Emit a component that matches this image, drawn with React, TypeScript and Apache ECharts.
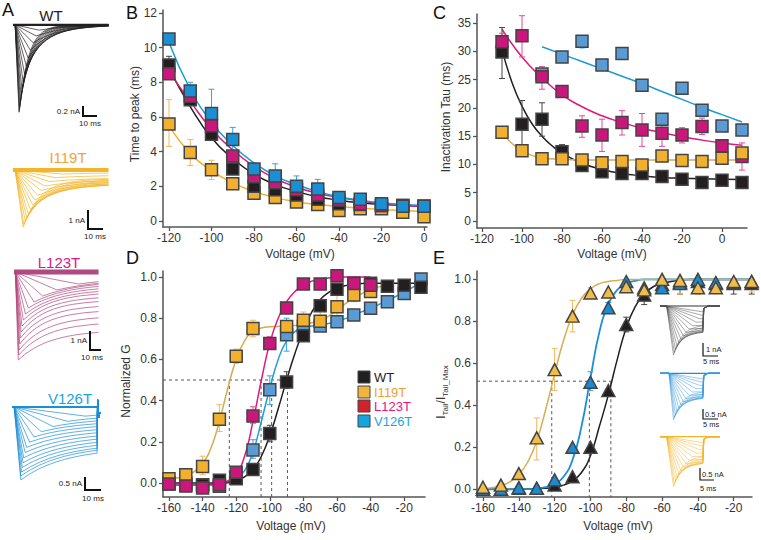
import React, { useEffect, useRef } from "react";
import * as echarts from "echarts";

const FONT = "'Liberation Sans', Arial, Helvetica, sans-serif";

// ===== Panel B: time to peak (ms) =====
const bVolt = [-120, -110, -100, -90, -80, -70, -60, -50, -40, -30, -20, -10, 0];
const bWT = [9.0, 7.0, 5.0, 3.0, 2.0, 1.8, 1.5, 1.25, 1.0, 0.95, 0.9, 0.9, 0.85];
const bI119T = [5.6, 3.95, 2.95, 2.15, 1.6, 1.35, 1.1, 0.95, 0.6, 0.7, 0.7, 0.5, 0.25];
const bL123T = [8.5, 7.2, 5.5, 3.75, 2.55, 2.2, 1.8, 1.5, 1.2, 1.0, 0.9, 0.9, 0.85];
const bV126T = [10.5, 7.5, 6.2, 4.7, 3.0, 2.6, 2.0, 1.85, 1.35, 1.25, 1.0, 0.85, 0.85];
const bFitWT = [8.8, 6.6, 4.8, 3.6, 2.7, 2.1, 1.7, 1.4, 1.2, 1.05, 0.95, 0.9, 0.85];
const bFitI119T = [5.5, 3.9, 2.9, 2.2, 1.7, 1.35, 1.1, 0.95, 0.83, 0.74, 0.66, 0.6, 0.55];
const bFitL123T = [8.6, 6.9, 5.3, 4.1, 3.15, 2.45, 1.95, 1.6, 1.35, 1.15, 1.0, 0.9, 0.85];
const bFitV126T = [10.3, 7.6, 5.7, 4.35, 3.35, 2.6, 2.1, 1.7, 1.4, 1.2, 1.05, 0.95, 0.9];
const bErrWT = [[-120, 8.5, 9.5]];
const bErrI119T = [[-120, 4.3, 7.0], [-110, 3.2, 4.7], [-100, 2.4, 3.5]];
const bErrV126T = [[-110, 7.0, 8.0], [-100, 4.8, 7.6], [-90, 4.0, 5.4], [-70, 2.1, 3.3], [-60, 1.5, 2.6], [-50, 1.3, 2.4]];
const bXTicks = [-120, -100, -80, -60, -40, -20, 0];
const bYTicks = [0, 2, 4, 6, 8, 10, 12];

// ===== Panel C: inactivation tau (ms) =====
const cVolt = [-110, -100, -90, -80, -70, -60, -50, -40, -30, -20, -10, 0, 10];
const cWT = [29.9, 17.1, 18.0, 12.25, 9.8, 8.7, 8.4, 8.4, 7.85, 7.4, 6.8, 7.2, 6.8];
const cI119T = [15.7, 12.4, 11.0, 11.0, 10.8, 10.3, 10.5, 9.9, 11.5, 10.7, 10.5, 11.1, 12.0];
const cL123T = [31.7, 32.75, 25.5, 22.9, 16.8, 15.2, 17.4, 16.1, 15.5, 15.2, 16.7, 13.3, 11.4];
const cVoltV126T = [-90, -80, -70, -60, -50, -40, -30, -20, -10, 0, 10];
const cV126T = [26.0, 29.0, 31.8, 27.6, 29.6, 24.0, 18.0, 23.45, 19.6, 16.8, 16.1];
const cFitWTVolt = [-110, -105, -100, -95, -90, -85, -80, -70, -60, -50, -40, -30, -20, -10, 0, 10];
const cFitWT = [30.3, 24.5, 20.3, 17.2, 15.0, 13.3, 12.0, 10.2, 9.1, 8.4, 8.0, 7.7, 7.55, 7.45, 7.4, 7.35];
const cFitI119TVolt = [-110, -105, -100, -95, -90, -80, -70, -60, -50, -40, -30, -20, -10, 0, 10];
const cFitI119T = [15.7, 13.7, 12.4, 11.6, 11.15, 10.9, 10.8, 10.8, 10.8, 10.8, 10.8, 10.8, 10.8, 10.8, 10.8];
const cFitL123T = [33.9, 29.0, 25.3, 22.3, 20.2, 18.6, 17.4, 16.4, 15.6, 14.9, 14.3, 13.8, 13.4];
const cFitV126T = [30.8, 29.5, 28.2, 26.9, 25.6, 24.3, 22.9, 21.5, 20.1, 18.8, 17.5];
const cErrWT = [[-110, 25.2, 34.2], [-100, 12.8, 21.3], [-90, 15.0, 20.9], [-80, 11.0, 13.5]];
const cErrL123T = [[-110, 30.0, 33.2], [-100, 29.0, 36.3], [-90, 23.3, 27.3], [-70, 14.8, 18.6], [-60, 12.3, 18.0], [-50, 15.2, 19.5], [-40, 13.2, 19.0], [-30, 13.2, 17.5], [-20, 13.8, 16.5], [-10, 15.3, 18.2], [0, 12.2, 14.3], [10, 9.0, 13.8]];
const cErrV126T = [[-80, 28.2, 30.0], [-70, 30.6, 32.8], [-60, 27.0, 28.2], [-50, 28.6, 30.6]];
const cXTicks = [-120, -100, -80, -60, -40, -20, 0];
const cYTicks = [0, 5, 10, 15, 20, 25, 30, 35];

// ===== Panel D: normalized G =====
const dVolt = [-160, -150, -140, -130, -120, -110, -100, -90, -80, -70, -60, -50, -40, -30, -20, -10];
const dWT = [-0.005, 0.0, -0.01, 0.013, 0.02, 0.065, 0.24, 0.49, 0.715, 0.86, 0.94, 0.97, 0.97, 0.955, 0.96, 0.95];
const dVoltI119T = [-160, -150, -140, -130, -120, -110, -90, -80, -70, -60, -50, -40];
const dI119T = [0.02, 0.04, 0.08, 0.31, 0.615, 0.75, 0.76, 0.79, 0.785, 0.855, 0.913, 0.93];
const dVoltL123T = [-160, -150, -140, -130, -120, -110, -100, -90, -80, -70, -60, -50, -40];
const dL123T = [-0.005, -0.015, -0.024, -0.008, 0.052, 0.325, 0.677, 0.85, 0.966, 0.966, 1.006, 0.968, 0.96];
const dV126T = [0.0, -0.01, -0.008, -0.016, 0.025, 0.16, 0.453, 0.72, 0.76, 0.762, 0.783, 0.815, 0.848, 0.88, 0.92, 0.99];
const dFitVolt = [-160, -155, -150, -145, -140, -135, -130, -125, -120, -115, -110, -105, -100, -95, -90, -85, -80, -75, -70, -65, -60, -55, -50, -45, -40, -35, -30, -25, -20, -15, -10];
const dFitWT = [0, 0, 0, 0, 0, 0, 0.002, 0.005, 0.012, 0.03, 0.065, 0.13, 0.23, 0.36, 0.5, 0.63, 0.74, 0.83, 0.89, 0.925, 0.945, 0.958, 0.965, 0.968, 0.97, 0.97, 0.97, 0.97, 0.97, 0.97, 0.97];
const dFitI119T = [0.02, 0.025, 0.035, 0.055, 0.095, 0.17, 0.3, 0.46, 0.6, 0.69, 0.735, 0.752, 0.758, 0.76, 0.762, 0.765, 0.77, 0.778, 0.79, 0.81, 0.84, 0.87, 0.9, 0.92, 0.94, 0.952, 0.96];
const dFitL123T = [-0.01, -0.01, -0.01, -0.01, -0.01, -0.008, -0.003, 0.01, 0.045, 0.13, 0.3, 0.5, 0.68, 0.8, 0.88, 0.93, 0.96, 0.98, 0.99, 0.995, 1.0, 1.0, 1.0, 1.0, 1.0];
const dFitV126T = [-0.01, -0.01, -0.01, -0.01, -0.01, -0.01, -0.008, 0.0, 0.02, 0.06, 0.15, 0.3, 0.46, 0.6, 0.69, 0.735, 0.755, 0.762, 0.767, 0.774, 0.785, 0.798, 0.815, 0.832, 0.85, 0.867, 0.885, 0.905, 0.925, 0.95, 0.975];
const dErrI119T = [[-140, 0.04, 0.13], [-130, 0.25, 0.38], [-120, 0.58, 0.65], [-110, 0.71, 0.79], [-80, 0.77, 0.83], [-70, 0.74, 0.84], [-60, 0.8, 0.92], [-50, 0.88, 0.95]];
const dErrV126T = [[-110, 0.12, 0.21], [-100, 0.38, 0.52], [-90, 0.64, 0.8], [-60, 0.76, 0.8]];
const dErrWT = [[-100, 0.2, 0.28], [-90, 0.46, 0.54]];
const dErrL123T = [[-110, 0.29, 0.37], [-100, 0.65, 0.71]];
const dHalf = 0.5;
const dV12 = [-124.1, -105.2, -98.9, -89.5];
const dStars = [[-106.4, -0.01], [-96.9, 0.16], [-89.2, 0.417]];
const dXTicks = [-160, -140, -120, -100, -80, -60, -40, -20];
const unitTicks = [0, 0.2, 0.4, 0.6, 0.8, 1.0];

// ===== Panel E: tail current =====
const eVolt = [-160, -150, -140, -130, -120, -110, -100, -90, -80, -70, -60, -50, -40, -30, -20, -10];
const eWT = [0.0, 0.0, 0.005, 0.005, 0.02, 0.06, 0.2, 0.47, 0.785, 0.925, 0.975, 0.985, 0.99, 0.98, 0.98, 0.98];
const eI119T = [0.01, 0.02, 0.075, 0.245, 0.57, 0.825, 0.935, 0.94, 0.965, 0.95, 1.0, 0.995, 0.96, 0.96, 0.99, 0.99];
const eV126T = [0.0, 0.0, 0.008, 0.005, 0.045, 0.2, 0.51, 0.865, 0.99, 0.96, 0.96, 0.98, 1.0, 0.985, 0.985, 0.99];
const eFitWT = [0, 0, 0, 0, 0, 0.001, 0.002, 0.005, 0.01, 0.02, 0.04, 0.08, 0.16, 0.3, 0.45, 0.62, 0.77, 0.87, 0.93, 0.965, 0.98, 0.99, 0.995, 1, 1, 1, 1, 1, 1, 1, 1];
const eFitI119T = [0.004, 0.008, 0.017, 0.035, 0.07, 0.13, 0.23, 0.38, 0.55, 0.71, 0.83, 0.91, 0.955, 0.98, 0.99, 0.995, 1, 1, 1, 1, 1, 1, 1, 1, 1, 1, 1, 1, 1, 1, 1];
const eFitV126T = [0, 0, 0, 0, 0, 0.001, 0.003, 0.01, 0.025, 0.06, 0.14, 0.3, 0.53, 0.75, 0.88, 0.95, 0.98, 0.993, 1, 1, 1, 1, 1, 1, 1, 1, 1, 1, 1, 1, 1];
const eErrI119T = [[-130, 0.14, 0.34], [-120, 0.47, 0.67], [-110, 0.75, 0.9], [-100, 0.91, 0.96], [-50, 0.93, 1.0], [-40, 0.93, 0.99], [-30, 0.94, 0.98], [-10, 0.94, 1.0]];
const eErrV126T = [[-100, 0.47, 0.56], [-90, 0.84, 0.89]];
const eErrWT = [[-80, 0.75, 0.82], [-70, 0.88, 0.96], [-50, 0.93, 1.0], [-20, 0.93, 1.0], [-10, 0.93, 1.0]];
const eHalf = 0.515;
const eV12 = [-121.6, -100.6, -88.6];
const eStars = [[-102.7, 0.02], [-92.5, 0.19], [-85.2, 0.435]];

// ===== Panel A: current traces (amplitude, time to peak, decay tau, residual) =====
const wtAmp = [1.66, 1.62, 1.55, 1.46, 1.35, 1.22, 1.08, 0.93, 0.78, 0.63, 0.48, 0.34, 0.21, 0.1];
const wtTpk = [4.2, 4.4, 4.7, 5.1, 5.6, 6.2, 7.0, 8.0, 9.2, 10.5, 12, 14, 16, 18];
const wtTau = [6.5, 7, 7.5, 8.2, 9, 10, 11, 12.5, 14, 15.5, 17, 19, 21, 23];
const wtSs = [0, 0, 0, 0, 0, 0, 0, 0, 0, 0, 0, 0, 0, 0];
const iAmp = [2.85, 2.72, 2.56, 2.38, 2.18, 1.97, 1.74, 1.5, 1.26, 1.02, 0.8, 0.58, 0.38, 0.2];
const iTpk = [7, 7.5, 8.5, 9.5, 10.5, 12, 13.5, 15, 17, 19.5, 22, 25, 29, 34];
const iTau = [12, 13, 14, 15, 16, 17, 19, 21, 23, 25, 28, 31, 35, 40];
const iSs = [0.45, 0.5, 0.55, 0.6, 0.65, 0.7, 0.7, 0.68, 0.62, 0.55, 0.47, 0.37, 0.24, 0.12];
const lAmp = [4.4, 4.15, 3.9, 3.6, 3.3, 3.0, 2.7, 2.4, 2.1, 1.8, 1.5, 1.2, 0.9, 0.6];
const lTpk = [3, 3.3, 3.6, 4, 4.5, 5, 5.6, 6.5, 8, 10, 14, 20, 30, 45];
const lTau = [22, 20, 19, 18, 18, 18, 19, 20, 22, 24, 26, 30, 35, 40];
const lSs = [2.9, 2.5, 2.2, 1.9, 1.65, 1.4, 1.2, 1.0, 0.85, 0.7, 0.55, 0.4, 0.3, 0.2];
const vAmp = [2.8, 2.65, 2.5, 2.32, 2.14, 1.95, 1.75, 1.55, 1.35, 1.15, 0.95, 0.75, 0.55, 0.35];
const vTpk = [6, 6, 6.5, 7, 7.5, 8, 9, 10, 12, 15, 20, 28, 38, 50];
const vTau = [30, 30, 30, 30, 30, 30, 30, 30, 30, 30, 30, 30, 30, 30];
const vSs = [1.55, 1.45, 1.38, 1.28, 1.18, 1.07, 0.96, 0.85, 0.74, 0.63, 0.52, 0.41, 0.3, 0.19];
// E insets (normalized to the largest trace)
const insAmp = [1.0, 0.95, 0.89, 0.82, 0.75, 0.68, 0.61, 0.54, 0.47, 0.4, 0.33, 0.26, 0.19, 0.12];
const insTpk = [4.5, 4.8, 5.2, 5.7, 6.3, 7.0, 7.8, 8.7, 9.7, 10.8, 12.0, 13.2, 14.0, 14.2];
const insTau = [3, 3.2, 3.4, 3.6, 3.8, 4, 4.3, 4.6, 5, 5.5, 6, 6.5, 7, 7.5];
const insSs = [0.38, 0.42, 0.45, 0.48, 0.5, 0.51, 0.51, 0.49, 0.45, 0.39, 0.32, 0.25, 0.18, 0.12];

const C = {
  wt: "#231f20",
  iSq: "#f1b12f", iLineB: "#f2b12c", iLine: "#d7aa50", iErr: "#f3b85a", iTri: "#f1bd4a",
  lSq: "#c9177b", lLine: "#e0197d", lErr: "#e6489a",
  vSqB: "#1b8fd3", vSq: "#5a9bd6", vLine: "#1a9bd7", vErr: "#3aa0e0", vTri: "#1b8ad0",
  axis: "#555", tick: "#333",
};

const pairs = (xs: number[], ys: number[]) => xs.map((x, i) => [x, ys[i]]);

function fitLine(g: number, data: number[][], color: string, width = 1.5) {
  return { type: "line", xAxisIndex: g, yAxisIndex: g, data, symbol: "none", smooth: 0.5, lineStyle: { color, width }, silent: true, z: 2 };
}
function markers(g: number, data: number[][], fill: string, symbol = "rect", size: any = 12) {
  return { type: "scatter", xAxisIndex: g, yAxisIndex: g, data, symbol, symbolSize: size, itemStyle: { color: fill, borderColor: "#444", borderWidth: 1.5, opacity: 1 }, silent: true, z: 4 };
}
function errBars(g: number, data: number[][], color: string) {
  return {
    type: "custom", xAxisIndex: g, yAxisIndex: g, data, encode: { x: 0, y: [1, 2] }, silent: true, z: 3,
    renderItem: (params: any, api: any) => {
      const x = api.value(0);
      const p1 = api.coord([x, api.value(1)]);
      const p2 = api.coord([x, api.value(2)]);
      const w = 3;
      const st = { stroke: color, lineWidth: 1 };
      return {
        type: "group",
        children: [
          { type: "line", shape: { x1: p1[0], y1: p1[1], x2: p2[0], y2: p2[1] }, style: st },
          { type: "line", shape: { x1: p1[0] - w, y1: p1[1], x2: p1[0] + w, y2: p1[1] }, style: st },
          { type: "line", shape: { x1: p2[0] - w, y1: p2[1], x2: p2[0] + w, y2: p2[1] }, style: st },
        ],
      };
    },
  };
}
function dashed(g: number, data: number[][]) {
  return { type: "line", xAxisIndex: g, yAxisIndex: g, data, symbol: "none", lineStyle: { color: "#555", width: 1, type: [3, 3] }, silent: true, z: 1 };
}
function stars(g: number, data: number[][]) {
  return {
    type: "scatter", xAxisIndex: g, yAxisIndex: g, data, symbolSize: 1, itemStyle: { opacity: 0 }, silent: true, z: 5,
    label: { show: true, position: "inside", formatter: "**", fontSize: 10, color: "#444", fontFamily: FONT },
  };
}

function trace(tStart: number, amp: number, tpk: number, tau: number, ss: number, tEnd: number) {
  const pts: number[][] = [[0, 0], [tStart, 0], [tpk, -amp]];
  const ks = [0.2, 0.4, 0.6, 0.8, 1, 1.25, 1.5, 1.75, 2, 2.5, 3, 3.5, 4, 5, 6, 8, 10];
  for (const k of ks) {
    const t = tpk + k * tau;
    if (t >= tEnd) break;
    pts.push([t, -(ss + (amp - ss) * Math.exp(-k))]);
  }
  pts.push([tEnd, -(ss + (amp - ss) * Math.exp(-(tEnd - tpk) / tau))]);
  return pts;
}
function traceFamily(g: number, color: string, tStart: number, amp: number[], tpk: number[], tau: number[], ss: number[], tEnd: number, tail?: number[][], width = 0.7) {
  return amp.map((a, i) => ({
    type: "line", xAxisIndex: g, yAxisIndex: g, symbol: "none", silent: true,
    lineStyle: { color, width },
    data: trace(tStart, a, tpk[i], tau[i], ss[i], tEnd).concat(tail ? tail : []),
  }));
}
function baseline(g: number, color: string, t1: number, width: number) {
  return { type: "line", xAxisIndex: g, yAxisIndex: g, symbol: "none", silent: true, lineStyle: { color, width }, data: [[0, 0], [t1, 0]] };
}

function mainX(g: number, min: number, max: number, ticks: number[]) {
  return {
    type: "value", gridIndex: g, min, max,
    axisLine: { show: true, onZero: false, lineStyle: { color: C.axis, width: 1.5 } },
    axisTick: { show: true, length: 4, customValues: ticks, lineStyle: { color: C.axis, width: 1.3 } },
    axisLabel: { show: true, customValues: ticks, color: C.tick, fontSize: 12, fontFamily: FONT, margin: 5 },
    splitLine: { show: false },
  };
}
function mainY(g: number, min: number, max: number, ticks: number[], fmt?: (v: number) => string) {
  return {
    type: "value", gridIndex: g, min, max,
    axisLine: { show: true, onZero: false, lineStyle: { color: C.axis, width: 1.5 } },
    axisTick: { show: true, length: 4, customValues: ticks, lineStyle: { color: C.axis, width: 1.3 } },
    axisLabel: { show: true, customValues: ticks, color: C.tick, fontSize: 12, fontFamily: FONT, margin: 6, formatter: fmt },
    splitLine: { show: false },
  };
}
function hidden(g: number, min: number, max: number) {
  return { type: "value", gridIndex: g, min, max, show: false, splitLine: { show: false } };
}

function txt(x: number, y: number, text: string, size: number, fill: string, align = "center", vAlign = "middle", rotate = 0, extra: any = {}) {
  return { type: "text", x, y, rotation: rotate, silent: true, z: 10, style: { text, fontSize: size, fontFamily: FONT, fill, align, verticalAlign: vAlign, ...extra } };
}
function bar(points: number[][], width = 2) {
  return { type: "polyline", silent: true, z: 10, shape: { points }, style: { stroke: "#111", lineWidth: width, fill: null } };
}

function buildOption() {
  const grids = [
    { left: 163, top: 10, width: 264, height: 217 },
    { left: 477, top: 14, width: 270, height: 214 },
    { left: 163, top: 271, width: 262, height: 226 },
    { left: 477, top: 271, width: 275, height: 226 },
    { left: 13, top: 17, width: 97, height: 100 },
    { left: 13, top: 163, width: 97, height: 67 },
    { left: 14, top: 265, width: 86, height: 100 },
    { left: 12, top: 400, width: 88, height: 90 },
    { left: 660, top: 300, width: 60, height: 60 },
    { left: 660, top: 367, width: 60, height: 60 },
    { left: 660, top: 430, width: 60, height: 60 },
  ].map((g) => ({ ...g, containLabel: false, outerBoundsMode: "none" }));

  const fmt1 = (v: number) => v.toFixed(1);
  const xAxis = [
    mainX(0, -122.82, 1.41, bXTicks),
    mainX(1, -122.5, 12.5, cXTicks),
    mainX(2, -163.57, -7.62, dXTicks),
    mainX(3, -163.34, -9.8, dXTicks),
    hidden(4, 0, 67), hidden(5, 0, 67), hidden(6, 0, 60), hidden(7, 0, 60),
    hidden(8, 0, 20), hidden(9, 0, 20), hidden(10, 0, 20),
  ];
  const yAxis = [
    mainY(0, -0.346, 12.17, bYTicks),
    mainY(1, -1.24, 36.6, cYTicks),
    mainY(2, -0.068, 1.029, unitTicks, fmt1),
    mainY(3, -0.0367, 1.04, unitTicks, fmt1),
    hidden(4, -1.75, 0.15), hidden(5, -3.0, 0.35), hidden(6, -4.65, 0.35), hidden(7, -3.19, 0.27),
    hidden(8, -1.102, 0.122), hidden(9, -1.15, 0.135), hidden(10, -1.066, 0.134),
  ];

  const insTail = [[14.6, -0.05], [16, 0], [20, 0]];
  const series: any[] = [
    // ---- B ----
    fitLine(0, pairs(bVolt, bFitI119T), C.iLineB),
    fitLine(0, pairs(bVolt, bFitWT), C.wt),
    fitLine(0, pairs(bVolt, bFitL123T), C.lLine),
    fitLine(0, pairs(bVolt, bFitV126T), C.vLine),
    errBars(0, bErrI119T, C.iErr), errBars(0, bErrWT, "#444"), errBars(0, bErrV126T, C.vErr),
    markers(0, pairs(bVolt, bI119T), C.iSq),
    markers(0, pairs(bVolt, bWT), C.wt),
    markers(0, pairs(bVolt, bL123T), C.lSq),
    markers(0, pairs(bVolt, bV126T), C.vSqB),
    // ---- C ----
    fitLine(1, pairs(cVoltV126T, cFitV126T), C.vLine),
    fitLine(1, pairs(cFitWTVolt, cFitWT), C.wt),
    fitLine(1, pairs(cVolt, cFitL123T), C.lLine),
    fitLine(1, pairs(cFitI119TVolt, cFitI119T), C.iLine),
    errBars(1, cErrV126T, C.vErr), errBars(1, cErrWT, "#444"), errBars(1, cErrL123T, C.lErr),
    markers(1, pairs(cVoltV126T, cV126T), C.vSq),
    markers(1, pairs(cVolt, cWT), C.wt),
    markers(1, pairs(cVolt, cL123T), C.lSq),
    markers(1, pairs(cVolt, cI119T), C.iSq),
    // ---- D ----
    dashed(2, [[-163.57, dHalf], [dV12[3], dHalf]]),
    ...dV12.map((v) => dashed(2, [[v, dHalf], [v, -0.068]])),
    fitLine(2, pairs(dFitVolt, dFitV126T), "#1aa0dc"),
    fitLine(2, pairs(dFitVolt, dFitWT), C.wt),
    fitLine(2, pairs(dFitVolt, dFitI119T), C.iLine),
    fitLine(2, pairs(dFitVolt, dFitL123T), C.lLine),
    errBars(2, dErrV126T, C.vErr), errBars(2, dErrWT, "#444"), errBars(2, dErrI119T, C.iErr), errBars(2, dErrL123T, C.lErr),
    markers(2, pairs(dVolt, dV126T), C.vSq),
    markers(2, pairs(dVolt, dWT), C.wt),
    markers(2, pairs(dVoltI119T, dI119T), C.iSq),
    markers(2, pairs(dVoltL123T, dL123T), C.lSq),
    stars(2, dStars),
    // ---- E ----
    dashed(3, [[-163.34, eHalf], [eV12[2], eHalf]]),
    ...eV12.map((v) => dashed(3, [[v, eHalf], [v, -0.0367]])),
    fitLine(3, pairs(dFitVolt, eFitWT), C.wt),
    fitLine(3, pairs(dFitVolt, eFitV126T), "#1a8fd6", 1.8),
    fitLine(3, pairs(dFitVolt, eFitI119T), "#d9ad55"),
    errBars(3, eErrWT, "#444"), errBars(3, eErrV126T, C.vErr), errBars(3, eErrI119T, C.iErr),
    markers(3, pairs(eVolt, eWT), C.wt, "triangle", [13, 12]),
    markers(3, pairs(eVolt, eV126T), C.vTri, "triangle", [13, 12]),
    markers(3, pairs(eVolt, eI119T), C.iTri, "triangle", [13, 12]),
    stars(3, eStars),
    // ---- A traces ----
    baseline(4, C.wt, 66, 2.2),
    ...traceFamily(4, C.wt, 1.5, wtAmp, wtTpk, wtTau, wtSs, 66),
    baseline(5, "#f2b52a", 66, 4),
    ...traceFamily(5, "#f2b52a", 1.5, iAmp, iTpk, iTau, iSs, 66),
    baseline(6, "#b04a80", 59, 5),
    ...traceFamily(6, "#b0467c", 1.0, lAmp, lTpk, lTau, lSs, 59),
    baseline(7, "#1c8ed6", 58, 2),
    ...traceFamily(7, "#1c8ed6", 1.5, vAmp, vTpk, vTau, vSs, 58, [[58.4, 0.3], [59.2, -0.4], [60, -0.2]]),
    // ---- E insets ----
    baseline(8, "#333", 20, 1.2),
    ...traceFamily(8, "#555", 2.2, insAmp, insTpk, insTau, insSs, 14.3, insTail, 0.5),
    baseline(9, "#1c8ed6", 20, 1.2),
    ...traceFamily(9, "#3a9be0", 3.0, insAmp, insTpk, insTau, insSs, 14.3, insTail, 0.5),
    baseline(10, "#f2b52a", 20, 1.2),
    ...traceFamily(10, "#f2b52a", 2.2, insAmp, insTpk, insTau, insSs, 14.3, insTail, 0.5),
  ];

  const legendNames = ["WT", "I119T", "L123T", "V126T"];
  const legendSq = ["#231f20", "#f0b440", "#d2232a", "#14a4de"];
  const legendTxt = ["#222", "#f0a030", "#e3177f", "#1ba6df"];
  const legendY = [377, 392, 406, 421];

  const graphic: any[] = [
    txt(2, 1, "A", 18, "#111", "left", "top"),
    txt(126, 4, "B", 18, "#111", "left", "top"),
    txt(433, 4, "C", 18, "#111", "left", "top"),
    txt(126, 249, "D", 18, "#111", "left", "top"),
    txt(433, 249, "E", 18, "#111", "left", "top"),
    txt(135, 114, "Time to peak (ms)", 12, "#333", "center", "middle", Math.PI / 2),
    txt(300, 254, "Voltage (mV)", 12, "#333"),
    txt(446, 117, "Inactivation Tau (ms)", 12, "#333", "center", "middle", Math.PI / 2),
    txt(612, 254, "Voltage (mV)", 12, "#333"),
    txt(126, 381, "Normalized G", 12, "#333", "center", "middle", Math.PI / 2),
    txt(291, 526, "Voltage (mV)", 12, "#333"),
    txt(618, 526, "Voltage (mV)", 12, "#333"),
    {
      type: "text", x: 441, y: 392, rotation: Math.PI / 2, silent: true, z: 10,
      style: {
        text: "{m|I}{s|Tail}{m|/I}{s|Tail_Max}", fontSize: 12, fontFamily: FONT, fill: "#333", align: "center", verticalAlign: "middle",
        rich: { m: { fontSize: 12, fontFamily: FONT, fill: "#333", lineHeight: 16, verticalAlign: "middle" }, s: { fontSize: 8, fontFamily: FONT, fill: "#333", lineHeight: 16, verticalAlign: "bottom" } },
      },
    },
    // trace labels
    txt(51, 15, "WT", 15, "#222"),
    txt(68, 157, "I119T", 15, "#f2a33a"),
    txt(59, 262, "L123T", 15, "#e0158a"),
    txt(70, 398, "V126T", 15, "#1aa3dd"),
    // scale bars panel A
    bar([[83, 106], [83, 116], [97, 116]]),
    txt(80, 111, "0.2 nA", 8, "#222", "right"),
    txt(90, 123, "10 ms", 8, "#222"),
    bar([[88, 210], [88, 229], [103, 229]]),
    txt(85, 220, "1 nA", 8, "#222", "right"),
    txt(95, 236, "10 ms", 8, "#222"),
    bar([[90, 331], [90, 350], [101, 350]]),
    txt(87, 340, "1 nA", 8, "#222", "right"),
    txt(92, 357, "10 ms", 8, "#222"),
    bar([[85, 477], [85, 490], [101, 490]]),
    txt(82, 483, "0.5 nA", 8, "#222", "right"),
    txt(93, 498, "10 ms", 8, "#222"),
    // scale bars E insets
    bar([[703, 343], [703, 356], [718, 356]], 1.2),
    txt(706, 349, "1 nA", 7.5, "#222", "left"),
    txt(711, 361, "5 ms", 7.5, "#222"),
    bar([[703, 409], [703, 419], [718, 419]], 1.2),
    txt(705, 414, "0.5 nA", 7.5, "#222", "left"),
    txt(711, 424, "5 ms", 7.5, "#222"),
    bar([[700, 468], [700, 480], [714, 480]], 1.2),
    txt(702, 474, "0.5 nA", 7.5, "#222", "left"),
    txt(708, 488, "5 ms", 7.5, "#222"),
  ];
  legendNames.forEach((n, i) => {
    graphic.push({ type: "rect", silent: true, z: 10, shape: { x: 358, y: legendY[i] - 6, width: 12, height: 12 }, style: { fill: legendSq[i], stroke: "#444", lineWidth: 1 } });
    graphic.push(txt(374, legendY[i], n, 13, legendTxt[i], "left", "middle"));
  });

  return {
    animation: false,
    backgroundColor: "#ffffff",
    textStyle: { fontFamily: FONT },
    grid: grids,
    xAxis,
    yAxis,
    series,
    graphic,
  };
}

export default function App() {
  const ref = useRef<HTMLDivElement>(null);
  useEffect(() => {
    if (!ref.current) return;
    const chart = echarts.init(ref.current, null, { renderer: "svg" });
    chart.setOption(buildOption() as any);
    return () => chart.dispose();
  }, []);
  return <div ref={ref} style={{ position: "absolute", left: 0, top: 0, width: 761, height: 540, background: "#fff" }} />;
}
